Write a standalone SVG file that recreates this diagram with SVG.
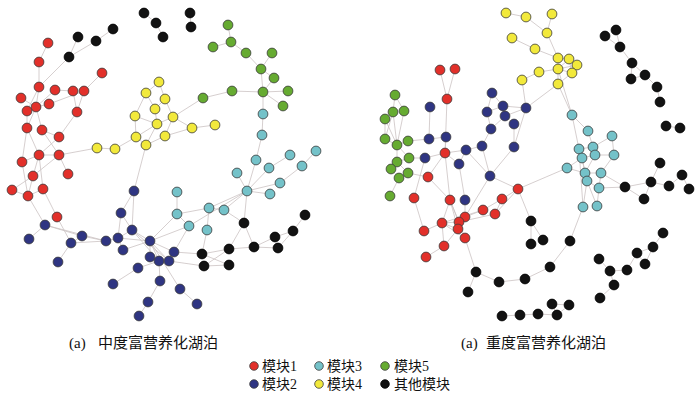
<svg xmlns="http://www.w3.org/2000/svg" width="700" height="396" viewBox="0 0 700 396">
<style>
.e line{stroke:#cbc3c3;stroke-width:0.8}
circle{stroke:#3c3c3c;stroke-width:0.8}
.r{fill:#e2302a}.n{fill:#2f3582}.c{fill:#74c2c9}.y{fill:#f2e93b}.g{fill:#66ab31}.k{fill:#121212;stroke:#000}
text{font-family:"Liberation Serif","Noto Sans CJK SC",serif;fill:#111}
</style>
<rect width="700" height="396" fill="#fff"/>
<g id="connectors" class="e">
<line x1="144" y1="13" x2="156" y2="23"/><line x1="156" y1="23" x2="163" y2="37"/><line x1="190" y1="13" x2="191" y2="27"/><line x1="113" y1="29" x2="96" y2="41"/><line x1="96" y1="41" x2="69" y2="57"/><line x1="78" y1="37" x2="69" y2="57"/><line x1="69" y1="57" x2="39" y2="87"/>
<line x1="48" y1="43" x2="39" y2="62"/><line x1="39" y1="62" x2="39" y2="87"/><line x1="39" y1="87" x2="36" y2="107"/><line x1="39" y1="87" x2="27" y2="111"/><line x1="55" y1="90" x2="73" y2="91"/><line x1="55" y1="90" x2="36" y2="107"/><line x1="21" y1="98" x2="36" y2="107"/><line x1="49" y1="104" x2="84" y2="91"/><line x1="49" y1="104" x2="36" y2="107"/><line x1="73" y1="91" x2="77" y2="112"/><line x1="84" y1="91" x2="77" y2="112"/><line x1="84" y1="91" x2="102" y2="73"/><line x1="36" y1="107" x2="27" y2="128"/><line x1="36" y1="107" x2="42" y2="130"/><line x1="27" y1="111" x2="27" y2="128"/><line x1="27" y1="128" x2="39" y2="155"/><line x1="27" y1="128" x2="22" y2="162"/><line x1="42" y1="130" x2="59" y2="137"/><line x1="42" y1="130" x2="59" y2="155"/><line x1="77" y1="112" x2="59" y2="137"/><line x1="59" y1="137" x2="39" y2="155"/><line x1="39" y1="155" x2="59" y2="155"/><line x1="59" y1="155" x2="97" y2="148"/><line x1="59" y1="155" x2="68" y2="174"/><line x1="39" y1="155" x2="22" y2="162"/><line x1="39" y1="155" x2="33" y2="176"/><line x1="59" y1="155" x2="33" y2="176"/><line x1="22" y1="162" x2="28" y2="196"/><line x1="33" y1="176" x2="12" y2="190"/><line x1="33" y1="176" x2="28" y2="196"/><line x1="12" y1="190" x2="28" y2="196"/><line x1="28" y1="196" x2="43" y2="189"/><line x1="39" y1="155" x2="43" y2="189"/><line x1="43" y1="189" x2="57" y2="217"/><line x1="28" y1="196" x2="45" y2="225"/><line x1="57" y1="217" x2="71" y2="243"/>
<line x1="159" y1="82" x2="146" y2="93"/><line x1="159" y1="82" x2="165" y2="99"/><line x1="146" y1="93" x2="155" y2="109"/><line x1="146" y1="93" x2="135" y2="116"/><line x1="165" y1="99" x2="155" y2="109"/><line x1="165" y1="99" x2="173" y2="117"/><line x1="155" y1="109" x2="157" y2="124"/><line x1="135" y1="116" x2="136" y2="137"/><line x1="135" y1="116" x2="157" y2="124"/><line x1="173" y1="117" x2="157" y2="124"/><line x1="173" y1="117" x2="165" y2="136"/><line x1="157" y1="124" x2="146" y2="145"/><line x1="136" y1="137" x2="146" y2="145"/><line x1="136" y1="137" x2="115" y2="149"/><line x1="97" y1="148" x2="115" y2="149"/><line x1="165" y1="136" x2="146" y2="145"/><line x1="173" y1="117" x2="192" y2="128"/><line x1="192" y1="128" x2="215" y2="125"/><line x1="165" y1="136" x2="192" y2="128"/><line x1="173" y1="117" x2="203" y2="98"/><line x1="146" y1="145" x2="134" y2="191"/><line x1="136" y1="137" x2="157" y2="124"/>
<line x1="228" y1="25" x2="231" y2="42"/><line x1="213" y1="47" x2="231" y2="42"/><line x1="231" y1="42" x2="246" y2="53"/><line x1="246" y1="53" x2="261" y2="69"/><line x1="272" y1="53" x2="261" y2="69"/><line x1="261" y1="69" x2="263" y2="92"/><line x1="274" y1="78" x2="263" y2="92"/><line x1="261" y1="69" x2="274" y2="78"/><line x1="263" y1="92" x2="288" y2="91"/><line x1="263" y1="92" x2="283" y2="106"/><line x1="263" y1="92" x2="232" y2="91"/><line x1="232" y1="91" x2="203" y2="98"/><line x1="263" y1="92" x2="263" y2="114"/>
<line x1="263" y1="114" x2="262" y2="135"/><line x1="262" y1="135" x2="256" y2="160"/><line x1="256" y1="160" x2="247" y2="191"/><line x1="290" y1="155" x2="269" y2="168"/><line x1="316" y1="151" x2="302" y2="166"/><line x1="302" y1="166" x2="280" y2="183"/><line x1="269" y1="168" x2="247" y2="191"/><line x1="237" y1="173" x2="247" y2="191"/><line x1="280" y1="183" x2="247" y2="191"/><line x1="270" y1="194" x2="247" y2="191"/><line x1="247" y1="191" x2="209" y2="208"/><line x1="247" y1="191" x2="189" y2="226"/><line x1="247" y1="191" x2="224" y2="210"/><line x1="247" y1="191" x2="244" y2="223"/><line x1="177" y1="192" x2="177" y2="214"/><line x1="177" y1="214" x2="209" y2="208"/><line x1="209" y1="208" x2="224" y2="210"/><line x1="209" y1="208" x2="207" y2="230"/><line x1="177" y1="214" x2="189" y2="226"/><line x1="207" y1="230" x2="202" y2="254"/><line x1="224" y1="210" x2="244" y2="223"/>
<line x1="244" y1="223" x2="229" y2="249"/><line x1="244" y1="223" x2="254" y2="247"/><line x1="254" y1="247" x2="229" y2="249"/><line x1="254" y1="247" x2="275" y2="237"/><line x1="275" y1="237" x2="293" y2="231"/><line x1="293" y1="231" x2="305" y2="215"/><line x1="254" y1="247" x2="278" y2="248"/><line x1="278" y1="248" x2="293" y2="231"/><line x1="229" y1="249" x2="202" y2="254"/><line x1="202" y1="254" x2="229" y2="265"/><line x1="204" y1="266" x2="229" y2="265"/><line x1="204" y1="266" x2="229" y2="249"/>
<line x1="45" y1="225" x2="29" y2="239"/><line x1="45" y1="225" x2="82" y2="236"/><line x1="45" y1="225" x2="106" y2="241"/><line x1="71" y1="243" x2="58" y2="262"/><line x1="71" y1="243" x2="82" y2="236"/><line x1="82" y1="236" x2="106" y2="241"/><line x1="71" y1="243" x2="106" y2="241"/><line x1="106" y1="241" x2="118" y2="238"/><line x1="118" y1="238" x2="121" y2="213"/><line x1="121" y1="213" x2="134" y2="191"/><line x1="134" y1="191" x2="132" y2="230"/><line x1="121" y1="213" x2="132" y2="230"/><line x1="132" y1="230" x2="118" y2="238"/><line x1="132" y1="230" x2="150" y2="241"/><line x1="118" y1="238" x2="150" y2="241"/><line x1="118" y1="238" x2="123" y2="250"/><line x1="123" y1="250" x2="150" y2="241"/><line x1="132" y1="230" x2="159" y2="261"/><line x1="132" y1="230" x2="169" y2="261"/><line x1="150" y1="241" x2="150" y2="257"/><line x1="150" y1="241" x2="159" y2="261"/><line x1="150" y1="241" x2="169" y2="261"/><line x1="150" y1="241" x2="174" y2="252"/><line x1="150" y1="257" x2="159" y2="261"/><line x1="159" y1="261" x2="169" y2="261"/><line x1="159" y1="261" x2="138" y2="268"/><line x1="138" y1="268" x2="113" y2="284"/><line x1="159" y1="261" x2="160" y2="281"/><line x1="160" y1="281" x2="148" y2="302"/><line x1="148" y1="302" x2="139" y2="316"/><line x1="150" y1="241" x2="180" y2="289"/><line x1="180" y1="289" x2="197" y2="304"/><line x1="150" y1="241" x2="177" y2="214"/><line x1="150" y1="241" x2="189" y2="226"/><line x1="174" y1="252" x2="189" y2="226"/><line x1="174" y1="252" x2="202" y2="254"/><line x1="169" y1="261" x2="204" y2="266"/>
<line x1="506" y1="13" x2="526" y2="17"/><line x1="526" y1="17" x2="547" y2="33"/><line x1="552" y1="14" x2="547" y2="33"/><line x1="547" y1="33" x2="558" y2="58"/><line x1="512" y1="38" x2="535" y2="49"/><line x1="535" y1="49" x2="558" y2="58"/><line x1="558" y1="58" x2="558" y2="69"/><line x1="558" y1="58" x2="569" y2="59"/><line x1="569" y1="59" x2="558" y2="69"/><line x1="569" y1="59" x2="572" y2="73"/><line x1="577" y1="65" x2="572" y2="73"/><line x1="577" y1="65" x2="558" y2="69"/><line x1="558" y1="69" x2="572" y2="73"/><line x1="558" y1="69" x2="558" y2="84"/><line x1="539" y1="72" x2="558" y2="69"/><line x1="522" y1="80" x2="539" y2="72"/><line x1="572" y1="73" x2="558" y2="84"/><line x1="558" y1="84" x2="526" y2="108"/><line x1="558" y1="84" x2="572" y2="115"/><line x1="558" y1="69" x2="572" y2="115"/><line x1="522" y1="80" x2="526" y2="108"/>
<line x1="440" y1="70" x2="447" y2="99"/><line x1="455" y1="69" x2="447" y2="99"/><line x1="447" y1="99" x2="445" y2="153"/>
<line x1="492" y1="93" x2="487" y2="112"/><line x1="492" y1="93" x2="503" y2="106"/><line x1="487" y1="112" x2="503" y2="106"/><line x1="503" y1="106" x2="526" y2="108"/><line x1="503" y1="106" x2="505" y2="116"/><line x1="505" y1="116" x2="526" y2="108"/><line x1="487" y1="112" x2="491" y2="129"/><line x1="505" y1="116" x2="491" y2="129"/><line x1="505" y1="116" x2="514" y2="124"/><line x1="514" y1="124" x2="514" y2="147"/><line x1="526" y1="108" x2="514" y2="147"/><line x1="491" y1="129" x2="482" y2="146"/><line x1="482" y1="146" x2="466" y2="150"/><line x1="466" y1="150" x2="445" y2="153"/><line x1="466" y1="150" x2="459" y2="164"/><line x1="466" y1="150" x2="490" y2="176"/><line x1="482" y1="146" x2="490" y2="176"/><line x1="490" y1="176" x2="514" y2="147"/><line x1="490" y1="176" x2="518" y2="189"/><line x1="490" y1="176" x2="465" y2="217"/><line x1="446" y1="137" x2="445" y2="153"/><line x1="446" y1="137" x2="429" y2="139"/><line x1="430" y1="107" x2="429" y2="139"/><line x1="429" y1="139" x2="408" y2="141"/><line x1="425" y1="158" x2="445" y2="153"/><line x1="425" y1="158" x2="409" y2="158"/><line x1="459" y1="164" x2="465" y2="200"/><line x1="459" y1="164" x2="445" y2="153"/><line x1="425" y1="158" x2="414" y2="198"/>
<line x1="445" y1="153" x2="450" y2="200"/><line x1="428" y1="177" x2="450" y2="200"/><line x1="428" y1="177" x2="408" y2="173"/><line x1="445" y1="153" x2="428" y2="177"/><line x1="450" y1="200" x2="442" y2="223"/><line x1="450" y1="200" x2="459" y2="222"/><line x1="450" y1="200" x2="465" y2="238"/><line x1="450" y1="200" x2="458" y2="229"/><line x1="414" y1="198" x2="424" y2="231"/><line x1="424" y1="231" x2="442" y2="223"/><line x1="442" y1="223" x2="444" y2="246"/><line x1="442" y1="223" x2="459" y2="222"/><line x1="442" y1="223" x2="458" y2="229"/><line x1="442" y1="223" x2="465" y2="238"/><line x1="444" y1="246" x2="426" y2="257"/><line x1="444" y1="246" x2="458" y2="229"/><line x1="465" y1="217" x2="458" y2="229"/><line x1="465" y1="217" x2="459" y2="222"/><line x1="483" y1="210" x2="465" y2="217"/><line x1="483" y1="210" x2="442" y2="223"/><line x1="502" y1="199" x2="483" y2="210"/><line x1="502" y1="199" x2="495" y2="214"/><line x1="518" y1="189" x2="502" y2="199"/><line x1="518" y1="189" x2="495" y2="214"/><line x1="495" y1="214" x2="459" y2="222"/><line x1="465" y1="238" x2="476" y2="272"/><line x1="518" y1="189" x2="531" y2="221"/><line x1="518" y1="189" x2="567" y2="168"/><line x1="465" y1="200" x2="465" y2="217"/>
<line x1="395" y1="95" x2="393" y2="112"/><line x1="395" y1="95" x2="404" y2="111"/><line x1="393" y1="112" x2="385" y2="139"/><line x1="385" y1="119" x2="385" y2="139"/><line x1="385" y1="119" x2="397" y2="145"/><line x1="385" y1="139" x2="397" y2="145"/><line x1="404" y1="111" x2="397" y2="145"/><line x1="393" y1="112" x2="397" y2="145"/><line x1="397" y1="145" x2="408" y2="141"/><line x1="397" y1="145" x2="409" y2="158"/><line x1="397" y1="145" x2="397" y2="162"/><line x1="409" y1="158" x2="397" y2="162"/><line x1="397" y1="162" x2="391" y2="169"/><line x1="397" y1="162" x2="408" y2="173"/><line x1="408" y1="173" x2="399" y2="178"/><line x1="399" y1="178" x2="390" y2="196"/><line x1="391" y1="169" x2="399" y2="178"/>
<line x1="572" y1="115" x2="588" y2="131"/><line x1="572" y1="115" x2="579" y2="149"/><line x1="588" y1="131" x2="593" y2="147"/><line x1="612" y1="136" x2="593" y2="147"/><line x1="579" y1="149" x2="593" y2="147"/><line x1="579" y1="149" x2="582" y2="158"/><line x1="593" y1="147" x2="595" y2="155"/><line x1="582" y1="158" x2="595" y2="155"/><line x1="595" y1="155" x2="614" y2="155"/><line x1="612" y1="136" x2="614" y2="155"/><line x1="582" y1="158" x2="585" y2="173"/><line x1="595" y1="155" x2="585" y2="173"/><line x1="585" y1="173" x2="587" y2="181"/><line x1="585" y1="173" x2="601" y2="173"/><line x1="601" y1="173" x2="599" y2="188"/><line x1="587" y1="181" x2="599" y2="188"/><line x1="587" y1="181" x2="583" y2="207"/><line x1="587" y1="181" x2="597" y2="206"/><line x1="599" y1="188" x2="597" y2="206"/><line x1="567" y1="168" x2="582" y2="158"/><line x1="567" y1="168" x2="585" y2="173"/><line x1="614" y1="155" x2="601" y2="173"/><line x1="582" y1="158" x2="587" y2="181"/><line x1="579" y1="149" x2="583" y2="207"/><line x1="599" y1="188" x2="625" y2="187"/><line x1="601" y1="173" x2="625" y2="187"/>
<line x1="616" y1="30" x2="620" y2="47"/><line x1="605" y1="36" x2="620" y2="47"/><line x1="620" y1="47" x2="632" y2="63"/><line x1="632" y1="63" x2="631" y2="79"/><line x1="632" y1="63" x2="645" y2="75"/><line x1="631" y1="79" x2="645" y2="75"/><line x1="645" y1="75" x2="657" y2="87"/><line x1="657" y1="87" x2="660" y2="102"/><line x1="666" y1="126" x2="680" y2="128"/><line x1="625" y1="187" x2="651" y2="182"/><line x1="625" y1="187" x2="644" y2="199"/><line x1="644" y1="199" x2="651" y2="182"/><line x1="651" y1="182" x2="660" y2="163"/><line x1="651" y1="182" x2="669" y2="186"/><line x1="669" y1="186" x2="682" y2="175"/><line x1="682" y1="175" x2="689" y2="189"/><line x1="531" y1="221" x2="531" y2="244"/><line x1="531" y1="221" x2="543" y2="240"/><line x1="583" y1="207" x2="570" y2="241"/><line x1="570" y1="241" x2="550" y2="267"/><line x1="550" y1="267" x2="525" y2="279"/><line x1="525" y1="279" x2="499" y2="282"/><line x1="499" y1="282" x2="476" y2="272"/><line x1="476" y1="272" x2="468" y2="292"/><line x1="663" y1="233" x2="653" y2="247"/><line x1="653" y1="247" x2="637" y2="253"/><line x1="653" y1="247" x2="645" y2="264"/><line x1="637" y1="253" x2="645" y2="264"/><line x1="637" y1="253" x2="627" y2="270"/><line x1="627" y1="270" x2="610" y2="271"/><line x1="610" y1="271" x2="599" y2="259"/><line x1="610" y1="271" x2="614" y2="285"/><line x1="614" y1="285" x2="600" y2="298"/><line x1="552" y1="304" x2="569" y2="305"/><line x1="552" y1="304" x2="557" y2="315"/><line x1="569" y1="305" x2="557" y2="315"/><line x1="538" y1="314" x2="557" y2="315"/><line x1="538" y1="314" x2="520" y2="315"/><line x1="520" y1="315" x2="502" y2="316"/>
</g>
<g id="left-network">
<g id="Lk1"><circle class="k" cx="144" cy="13" r="4.9"/></g><g id="Lk2"><circle class="k" cx="156" cy="23" r="4.9"/></g><g id="Lk3"><circle class="k" cx="163" cy="37" r="4.9"/></g><g id="Lk4"><circle class="k" cx="190" cy="13" r="4.9"/></g><g id="Lk5"><circle class="k" cx="191" cy="27" r="4.9"/></g><g id="Lk6"><circle class="k" cx="113" cy="29" r="4.9"/></g><g id="Lk7"><circle class="k" cx="96" cy="41" r="4.9"/></g><g id="Lk8"><circle class="k" cx="78" cy="37" r="4.9"/></g><g id="Lk9"><circle class="k" cx="69" cy="57" r="4.9"/></g>
<g id="Lk10"><circle class="k" cx="305" cy="215" r="4.9"/></g><g id="Lk11"><circle class="k" cx="244" cy="223" r="4.9"/></g><g id="Lk12"><circle class="k" cx="293" cy="231" r="4.9"/></g><g id="Lk13"><circle class="k" cx="275" cy="237" r="4.9"/></g><g id="Lk14"><circle class="k" cx="278" cy="248" r="4.9"/></g><g id="Lk15"><circle class="k" cx="254" cy="247" r="4.9"/></g><g id="Lk16"><circle class="k" cx="229" cy="249" r="4.9"/></g><g id="Lk17"><circle class="k" cx="202" cy="254" r="4.9"/></g><g id="Lk18"><circle class="k" cx="204" cy="266" r="4.9"/></g><g id="Lk19"><circle class="k" cx="229" cy="265" r="4.9"/></g>
<g id="Lr1"><circle class="r" cx="48" cy="43" r="4.9"/></g><g id="Lr2"><circle class="r" cx="39" cy="62" r="4.9"/></g><g id="Lr3"><circle class="r" cx="39" cy="87" r="4.9"/></g><g id="Lr4"><circle class="r" cx="102" cy="73" r="4.9"/></g><g id="Lr5"><circle class="r" cx="55" cy="90" r="4.9"/></g><g id="Lr6"><circle class="r" cx="73" cy="91" r="4.9"/></g><g id="Lr7"><circle class="r" cx="84" cy="91" r="4.9"/></g><g id="Lr8"><circle class="r" cx="21" cy="98" r="4.9"/></g><g id="Lr9"><circle class="r" cx="36" cy="107" r="4.9"/></g><g id="Lr10"><circle class="r" cx="49" cy="104" r="4.9"/></g><g id="Lr11"><circle class="r" cx="27" cy="111" r="4.9"/></g><g id="Lr12"><circle class="r" cx="77" cy="112" r="4.9"/></g><g id="Lr13"><circle class="r" cx="27" cy="128" r="4.9"/></g><g id="Lr14"><circle class="r" cx="42" cy="130" r="4.9"/></g><g id="Lr15"><circle class="r" cx="59" cy="137" r="4.9"/></g><g id="Lr16"><circle class="r" cx="39" cy="155" r="4.9"/></g><g id="Lr17"><circle class="r" cx="59" cy="155" r="4.9"/></g><g id="Lr18"><circle class="r" cx="22" cy="162" r="4.9"/></g><g id="Lr19"><circle class="r" cx="33" cy="176" r="4.9"/></g><g id="Lr20"><circle class="r" cx="68" cy="174" r="4.9"/></g><g id="Lr21"><circle class="r" cx="12" cy="190" r="4.9"/></g><g id="Lr22"><circle class="r" cx="28" cy="196" r="4.9"/></g><g id="Lr23"><circle class="r" cx="43" cy="189" r="4.9"/></g><g id="Lr24"><circle class="r" cx="57" cy="217" r="4.9"/></g>
<g id="Ly1"><circle class="y" cx="159" cy="82" r="4.9"/></g><g id="Ly2"><circle class="y" cx="146" cy="93" r="4.9"/></g><g id="Ly3"><circle class="y" cx="165" cy="99" r="4.9"/></g><g id="Ly4"><circle class="y" cx="155" cy="109" r="4.9"/></g><g id="Ly5"><circle class="y" cx="135" cy="116" r="4.9"/></g><g id="Ly6"><circle class="y" cx="173" cy="117" r="4.9"/></g><g id="Ly7"><circle class="y" cx="157" cy="124" r="4.9"/></g><g id="Ly8"><circle class="y" cx="136" cy="137" r="4.9"/></g><g id="Ly9"><circle class="y" cx="165" cy="136" r="4.9"/></g><g id="Ly10"><circle class="y" cx="146" cy="145" r="4.9"/></g><g id="Ly11"><circle class="y" cx="97" cy="148" r="4.9"/></g><g id="Ly12"><circle class="y" cx="115" cy="149" r="4.9"/></g><g id="Ly13"><circle class="y" cx="192" cy="128" r="4.9"/></g><g id="Ly14"><circle class="y" cx="215" cy="125" r="4.9"/></g>
<g id="Lg1"><circle class="g" cx="228" cy="25" r="4.9"/></g><g id="Lg2"><circle class="g" cx="231" cy="42" r="4.9"/></g><g id="Lg3"><circle class="g" cx="213" cy="47" r="4.9"/></g><g id="Lg4"><circle class="g" cx="246" cy="53" r="4.9"/></g><g id="Lg5"><circle class="g" cx="272" cy="53" r="4.9"/></g><g id="Lg6"><circle class="g" cx="261" cy="69" r="4.9"/></g><g id="Lg7"><circle class="g" cx="274" cy="78" r="4.9"/></g><g id="Lg8"><circle class="g" cx="232" cy="91" r="4.9"/></g><g id="Lg9"><circle class="g" cx="203" cy="98" r="4.9"/></g><g id="Lg10"><circle class="g" cx="263" cy="92" r="4.9"/></g><g id="Lg11"><circle class="g" cx="288" cy="91" r="4.9"/></g><g id="Lg12"><circle class="g" cx="283" cy="106" r="4.9"/></g>
<g id="Lc1"><circle class="c" cx="263" cy="114" r="4.9"/></g><g id="Lc2"><circle class="c" cx="262" cy="135" r="4.9"/></g><g id="Lc3"><circle class="c" cx="256" cy="160" r="4.9"/></g><g id="Lc4"><circle class="c" cx="290" cy="155" r="4.9"/></g><g id="Lc5"><circle class="c" cx="316" cy="151" r="4.9"/></g><g id="Lc6"><circle class="c" cx="269" cy="168" r="4.9"/></g><g id="Lc7"><circle class="c" cx="302" cy="166" r="4.9"/></g><g id="Lc8"><circle class="c" cx="237" cy="173" r="4.9"/></g><g id="Lc9"><circle class="c" cx="280" cy="183" r="4.9"/></g><g id="Lc10"><circle class="c" cx="247" cy="191" r="4.9"/></g><g id="Lc11"><circle class="c" cx="270" cy="194" r="4.9"/></g><g id="Lc12"><circle class="c" cx="177" cy="192" r="4.9"/></g><g id="Lc13"><circle class="c" cx="209" cy="208" r="4.9"/></g><g id="Lc14"><circle class="c" cx="224" cy="210" r="4.9"/></g><g id="Lc15"><circle class="c" cx="177" cy="214" r="4.9"/></g><g id="Lc16"><circle class="c" cx="189" cy="226" r="4.9"/></g><g id="Lc17"><circle class="c" cx="207" cy="230" r="4.9"/></g>
<g id="Ln1"><circle class="n" cx="134" cy="191" r="4.9"/></g><g id="Ln2"><circle class="n" cx="121" cy="213" r="4.9"/></g><g id="Ln3"><circle class="n" cx="45" cy="225" r="4.9"/></g><g id="Ln4"><circle class="n" cx="29" cy="239" r="4.9"/></g><g id="Ln5"><circle class="n" cx="82" cy="236" r="4.9"/></g><g id="Ln6"><circle class="n" cx="71" cy="243" r="4.9"/></g><g id="Ln7"><circle class="n" cx="106" cy="241" r="4.9"/></g><g id="Ln8"><circle class="n" cx="118" cy="238" r="4.9"/></g><g id="Ln9"><circle class="n" cx="132" cy="230" r="4.9"/></g><g id="Ln10"><circle class="n" cx="123" cy="250" r="4.9"/></g><g id="Ln11"><circle class="n" cx="150" cy="241" r="4.9"/></g><g id="Ln12"><circle class="n" cx="58" cy="262" r="4.9"/></g><g id="Ln13"><circle class="n" cx="150" cy="257" r="4.9"/></g><g id="Ln14"><circle class="n" cx="159" cy="261" r="4.9"/></g><g id="Ln15"><circle class="n" cx="169" cy="261" r="4.9"/></g><g id="Ln16"><circle class="n" cx="174" cy="252" r="4.9"/></g><g id="Ln17"><circle class="n" cx="138" cy="268" r="4.9"/></g><g id="Ln18"><circle class="n" cx="160" cy="281" r="4.9"/></g><g id="Ln19"><circle class="n" cx="113" cy="284" r="4.9"/></g><g id="Ln20"><circle class="n" cx="148" cy="302" r="4.9"/></g><g id="Ln21"><circle class="n" cx="139" cy="316" r="4.9"/></g><g id="Ln22"><circle class="n" cx="180" cy="289" r="4.9"/></g><g id="Ln23"><circle class="n" cx="197" cy="304" r="4.9"/></g>
</g>
<g id="right-network">
<g id="RY1"><circle class="y" cx="506" cy="13" r="4.9"/></g><g id="RY2"><circle class="y" cx="526" cy="17" r="4.9"/></g><g id="RY3"><circle class="y" cx="552" cy="14" r="4.9"/></g><g id="RY4"><circle class="y" cx="547" cy="33" r="4.9"/></g><g id="RY5"><circle class="y" cx="512" cy="38" r="4.9"/></g><g id="RY6"><circle class="y" cx="535" cy="49" r="4.9"/></g><g id="RY7"><circle class="y" cx="558" cy="58" r="4.9"/></g><g id="RY8"><circle class="y" cx="569" cy="59" r="4.9"/></g><g id="RY9"><circle class="y" cx="577" cy="65" r="4.9"/></g><g id="RY10"><circle class="y" cx="558" cy="69" r="4.9"/></g><g id="RY11"><circle class="y" cx="539" cy="72" r="4.9"/></g><g id="RY12"><circle class="y" cx="572" cy="73" r="4.9"/></g><g id="RY13"><circle class="y" cx="522" cy="80" r="4.9"/></g><g id="RY14"><circle class="y" cx="558" cy="84" r="4.9"/></g>
<g id="RR1"><circle class="r" cx="440" cy="70" r="4.9"/></g><g id="RR2"><circle class="r" cx="455" cy="69" r="4.9"/></g><g id="RR3"><circle class="r" cx="447" cy="99" r="4.9"/></g><g id="RR4"><circle class="r" cx="445" cy="153" r="4.9"/></g><g id="RR5"><circle class="r" cx="428" cy="177" r="4.9"/></g><g id="RR6"><circle class="r" cx="414" cy="198" r="4.9"/></g><g id="RR7"><circle class="r" cx="450" cy="200" r="4.9"/></g><g id="RR8"><circle class="r" cx="518" cy="189" r="4.9"/></g><g id="RR9"><circle class="r" cx="502" cy="199" r="4.9"/></g><g id="RR10"><circle class="r" cx="483" cy="210" r="4.9"/></g><g id="RR11"><circle class="r" cx="495" cy="214" r="4.9"/></g><g id="RR12"><circle class="r" cx="465" cy="217" r="4.9"/></g><g id="RR13"><circle class="r" cx="442" cy="223" r="4.9"/></g><g id="RR14"><circle class="r" cx="459" cy="222" r="4.9"/></g><g id="RR15"><circle class="r" cx="458" cy="229" r="4.9"/></g><g id="RR16"><circle class="r" cx="424" cy="231" r="4.9"/></g><g id="RR17"><circle class="r" cx="465" cy="238" r="4.9"/></g><g id="RR18"><circle class="r" cx="444" cy="246" r="4.9"/></g><g id="RR19"><circle class="r" cx="426" cy="257" r="4.9"/></g>
<g id="RN1"><circle class="n" cx="492" cy="93" r="4.9"/></g><g id="RN2"><circle class="n" cx="430" cy="107" r="4.9"/></g><g id="RN3"><circle class="n" cx="503" cy="106" r="4.9"/></g><g id="RN4"><circle class="n" cx="526" cy="108" r="4.9"/></g><g id="RN6"><circle class="n" cx="487" cy="112" r="4.9"/></g><g id="RN7"><circle class="n" cx="505" cy="116" r="4.9"/></g><g id="RN8"><circle class="n" cx="514" cy="124" r="4.9"/></g><g id="RN9"><circle class="n" cx="491" cy="129" r="4.9"/></g><g id="RN10"><circle class="n" cx="446" cy="137" r="4.9"/></g><g id="RN11"><circle class="n" cx="429" cy="139" r="4.9"/></g><g id="RN12"><circle class="n" cx="482" cy="146" r="4.9"/></g><g id="RN13"><circle class="n" cx="514" cy="147" r="4.9"/></g><g id="RN14"><circle class="n" cx="466" cy="150" r="4.9"/></g><g id="RN15"><circle class="n" cx="425" cy="158" r="4.9"/></g><g id="RN16"><circle class="n" cx="459" cy="164" r="4.9"/></g><g id="RN17"><circle class="n" cx="490" cy="176" r="4.9"/></g><g id="RN18"><circle class="n" cx="465" cy="200" r="4.9"/></g>
<g id="RG1"><circle class="g" cx="395" cy="95" r="4.9"/></g><g id="RG2"><circle class="g" cx="393" cy="112" r="4.9"/></g><g id="RG3"><circle class="g" cx="404" cy="111" r="4.9"/></g><g id="RG4"><circle class="g" cx="385" cy="119" r="4.9"/></g><g id="RG5"><circle class="g" cx="385" cy="139" r="4.9"/></g><g id="RG6"><circle class="g" cx="397" cy="145" r="4.9"/></g><g id="RG7"><circle class="g" cx="408" cy="141" r="4.9"/></g><g id="RG8"><circle class="g" cx="409" cy="158" r="4.9"/></g><g id="RG9"><circle class="g" cx="397" cy="162" r="4.9"/></g><g id="RG10"><circle class="g" cx="391" cy="169" r="4.9"/></g><g id="RG11"><circle class="g" cx="408" cy="173" r="4.9"/></g><g id="RG12"><circle class="g" cx="399" cy="178" r="4.9"/></g><g id="RG13"><circle class="g" cx="390" cy="196" r="4.9"/></g>
<g id="RC1"><circle class="c" cx="572" cy="115" r="4.9"/></g><g id="RC2"><circle class="c" cx="588" cy="131" r="4.9"/></g><g id="RC3"><circle class="c" cx="612" cy="136" r="4.9"/></g><g id="RC4"><circle class="c" cx="579" cy="149" r="4.9"/></g><g id="RC5"><circle class="c" cx="593" cy="147" r="4.9"/></g><g id="RC6"><circle class="c" cx="582" cy="158" r="4.9"/></g><g id="RC7"><circle class="c" cx="595" cy="155" r="4.9"/></g><g id="RC8"><circle class="c" cx="614" cy="155" r="4.9"/></g><g id="RC9"><circle class="c" cx="567" cy="168" r="4.9"/></g><g id="RC10"><circle class="c" cx="585" cy="173" r="4.9"/></g><g id="RC11"><circle class="c" cx="601" cy="173" r="4.9"/></g><g id="RC12"><circle class="c" cx="587" cy="181" r="4.9"/></g><g id="RC13"><circle class="c" cx="599" cy="188" r="4.9"/></g><g id="RC14"><circle class="c" cx="583" cy="207" r="4.9"/></g><g id="RC15"><circle class="c" cx="597" cy="206" r="4.9"/></g>
<g id="RK1"><circle class="k" cx="605" cy="36" r="4.9"/></g><g id="RK2"><circle class="k" cx="616" cy="30" r="4.9"/></g><g id="RK3"><circle class="k" cx="620" cy="47" r="4.9"/></g><g id="RK4"><circle class="k" cx="632" cy="63" r="4.9"/></g><g id="RK5"><circle class="k" cx="631" cy="79" r="4.9"/></g><g id="RK6"><circle class="k" cx="645" cy="75" r="4.9"/></g><g id="RK7"><circle class="k" cx="657" cy="87" r="4.9"/></g><g id="RK8"><circle class="k" cx="660" cy="102" r="4.9"/></g><g id="RK9"><circle class="k" cx="666" cy="126" r="4.9"/></g><g id="RK10"><circle class="k" cx="680" cy="128" r="4.9"/></g>
<g id="RK11"><circle class="k" cx="625" cy="187" r="4.9"/></g><g id="RK12"><circle class="k" cx="644" cy="199" r="4.9"/></g><g id="RK13"><circle class="k" cx="651" cy="182" r="4.9"/></g><g id="RK14"><circle class="k" cx="660" cy="163" r="4.9"/></g><g id="RK15"><circle class="k" cx="682" cy="175" r="4.9"/></g><g id="RK16"><circle class="k" cx="669" cy="186" r="4.9"/></g><g id="RK17"><circle class="k" cx="689" cy="189" r="4.9"/></g>
<g id="RK18"><circle class="k" cx="531" cy="221" r="4.9"/></g><g id="RK19"><circle class="k" cx="531" cy="244" r="4.9"/></g><g id="RK20"><circle class="k" cx="543" cy="240" r="4.9"/></g><g id="RK21"><circle class="k" cx="570" cy="241" r="4.9"/></g><g id="RK22"><circle class="k" cx="550" cy="267" r="4.9"/></g><g id="RK23"><circle class="k" cx="525" cy="279" r="4.9"/></g><g id="RK24"><circle class="k" cx="499" cy="282" r="4.9"/></g><g id="RK25"><circle class="k" cx="476" cy="272" r="4.9"/></g><g id="RK26"><circle class="k" cx="468" cy="292" r="4.9"/></g>
<g id="RK27"><circle class="k" cx="663" cy="233" r="4.9"/></g><g id="RK28"><circle class="k" cx="653" cy="247" r="4.9"/></g><g id="RK29"><circle class="k" cx="637" cy="253" r="4.9"/></g><g id="RK30"><circle class="k" cx="645" cy="264" r="4.9"/></g><g id="RK31"><circle class="k" cx="599" cy="259" r="4.9"/></g><g id="RK32"><circle class="k" cx="610" cy="271" r="4.9"/></g><g id="RK33"><circle class="k" cx="627" cy="270" r="4.9"/></g><g id="RK34"><circle class="k" cx="614" cy="285" r="4.9"/></g><g id="RK35"><circle class="k" cx="600" cy="298" r="4.9"/></g>
<g id="RK36"><circle class="k" cx="552" cy="304" r="4.9"/></g><g id="RK37"><circle class="k" cx="569" cy="305" r="4.9"/></g><g id="RK38"><circle class="k" cx="538" cy="314" r="4.9"/></g><g id="RK39"><circle class="k" cx="557" cy="315" r="4.9"/></g><g id="RK40"><circle class="k" cx="520" cy="315" r="4.9"/></g><g id="RK41"><circle class="k" cx="502" cy="316" r="4.9"/></g>
</g>
<g id="captions" font-size="15">
<text x="69" y="348">(a)</text><text x="98" y="348">中度富营养化湖泊</text>
<text x="461" y="348">(a)</text><text x="486" y="348">重度富营养化湖泊</text>
</g>
<g id="legend" font-size="14">
<circle class="r" cx="254" cy="366" r="4.3"/><text x="262" y="371">模块1</text>
<circle class="c" cx="319" cy="366" r="4.3"/><text x="327" y="371">模块3</text>
<circle class="g" cx="385" cy="366" r="4.3"/><text x="394" y="371">模块5</text>
<circle class="n" cx="254" cy="384" r="4.3"/><text x="262" y="389">模块2</text>
<circle class="y" cx="319" cy="384" r="4.3"/><text x="327" y="389">模块4</text>
<circle class="k" cx="385" cy="384" r="4.3"/><text x="394" y="389">其他模块</text>
</g>
</svg>
